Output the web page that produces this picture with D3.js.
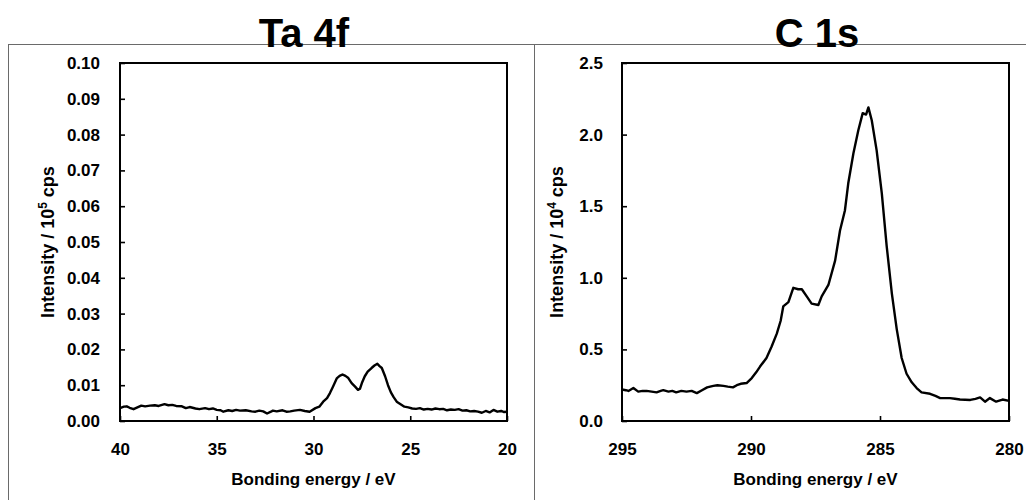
<!DOCTYPE html>
<html><head><meta charset="utf-8">
<script src="https://cdn.jsdelivr.net/npm/d3@7"></script>
<style>
html,body{margin:0;padding:0;background:#fff;}
svg{display:block;}
text{font-family:Arial,"Liberation Sans",sans-serif;font-weight:bold;fill:#000;}
</style></head>
<body>
<svg id="c" width="1026" height="500"></svg>
<script>
// ---- Data: Ta 4f ----
const taTitle = "Ta 4f";
const taBE = [40.0,39.8,39.65,39.5,39.3,39.1,38.9,38.7,38.45,38.2,38.0,37.7,37.5,37.3,37.1,36.8,36.6,36.4,36.1,35.9,35.6,35.4,35.2,35.0,34.8,34.66,34.4,34.2,34.0,33.8,33.5,33.2,33.0,32.8,32.6,32.4,32.2,32.1,31.9,31.6,31.4,31.2,31.0,30.7,30.45,30.2,29.9,29.7,29.5,29.3,29.15,29.0,28.8,28.65,28.5,28.35,28.2,28.03,27.85,27.7,27.6,27.5,27.35,27.2,27.0,26.85,26.7,26.6,26.47,26.3,26.15,26.0,25.85,25.7,25.5,25.3,25.1,24.9,24.7,24.5,24.3,24.1,23.9,23.7,23.5,23.3,23.1,22.9,22.7,22.5,22.3,22.1,21.9,21.7,21.5,21.3,21.1,20.9,20.7,20.5,20.3,20.15,20.0];
const taInt = [0.0036,0.0040,0.0041,0.0037,0.0033,0.0038,0.0043,0.0041,0.0043,0.0044,0.0042,0.0047,0.0044,0.0045,0.0042,0.0041,0.0036,0.0039,0.0035,0.0033,0.0036,0.0033,0.0035,0.0031,0.0030,0.0026,0.0030,0.0028,0.0031,0.0029,0.0030,0.0027,0.0026,0.0029,0.0027,0.0021,0.0026,0.0029,0.0027,0.0030,0.0026,0.0027,0.0029,0.0031,0.0028,0.0026,0.0036,0.0040,0.0054,0.0064,0.0078,0.0095,0.0119,0.0126,0.0130,0.0126,0.0120,0.0106,0.0096,0.0087,0.0090,0.0106,0.0125,0.0138,0.0148,0.0155,0.0160,0.0154,0.0148,0.0125,0.0100,0.0080,0.0066,0.0054,0.0047,0.0040,0.0038,0.0035,0.0034,0.0036,0.0032,0.0034,0.0032,0.0035,0.0033,0.0034,0.0030,0.0032,0.0031,0.0033,0.0029,0.0030,0.0027,0.0028,0.0026,0.0023,0.0028,0.0024,0.0031,0.0026,0.0028,0.0025,0.0026];
const taXTicks = [40,35,30,25,20];
const taYTicks = [0,0.01,0.02,0.03,0.04,0.05,0.06,0.07,0.08,0.09,0.10];
const taYLabel = ["Intensity / 10","5"," cps"];

// ---- Data: C 1s ----
const cTitle = "C 1s";
const cBE = [295.0,294.85,294.75,294.56,294.37,294.2,294.05,293.85,293.66,293.5,293.4,293.2,293.05,292.9,292.7,292.5,292.3,292.1,291.9,291.7,291.46,291.3,291.07,290.9,290.7,290.55,290.4,290.17,289.97,289.8,289.65,289.4,289.2,289.0,288.85,288.75,288.55,288.36,288.17,288.03,287.84,287.65,287.39,287.26,287.0,286.74,286.55,286.36,286.23,286.03,285.84,285.67,285.54,285.45,285.32,285.13,284.93,284.74,284.54,284.35,284.16,283.97,283.77,283.58,283.39,283.06,282.85,282.67,282.29,282.1,281.9,281.5,281.3,281.12,280.93,280.74,280.5,280.25,280.0];
const cInt = [0.22,0.215,0.21,0.23,0.205,0.21,0.21,0.205,0.20,0.21,0.215,0.205,0.21,0.20,0.21,0.205,0.21,0.195,0.215,0.235,0.245,0.25,0.245,0.24,0.235,0.25,0.26,0.265,0.30,0.34,0.38,0.44,0.52,0.61,0.70,0.80,0.83,0.93,0.92,0.92,0.87,0.82,0.81,0.87,0.95,1.12,1.33,1.47,1.66,1.87,2.03,2.15,2.14,2.19,2.10,1.89,1.59,1.22,0.89,0.64,0.44,0.33,0.27,0.23,0.20,0.19,0.175,0.16,0.16,0.155,0.15,0.147,0.155,0.165,0.135,0.16,0.135,0.15,0.14];
const cXTicks = [295,290,285,280];
const cYTicks = [0,0.5,1.0,1.5,2.0,2.5];
const cYLabel = ["Intensity / 10","4"," cps"];

const xTitle = "Bonding energy / eV";

const svg = d3.select("#c");

// outer frame lines
const frame = svg.append("g").attr("stroke","#6a6a6a").attr("stroke-width",1).attr("fill","none");
frame.append("line").attr("x1",8).attr("x2",1026).attr("y1",44.5).attr("y2",44.5);
frame.append("line").attr("x1",8.5).attr("x2",8.5).attr("y1",44).attr("y2",500);
frame.append("line").attr("x1",534.5).attr("x2",534.5).attr("y1",44).attr("y2",500);

function panel(o){
  const g = svg.append("g");
  const x = d3.scaleLinear().domain(o.xDomain).range([o.left,o.right]);
  const y = d3.scaleLinear().domain(o.yDomain).range([o.bottom,o.top]);

  // axes
  const ax = g.append("g").attr("transform",`translate(0,${o.bottom})`)
    .call(d3.axisBottom(x).tickValues(o.xTicks).tickSize(-5).tickPadding(22).tickFormat(d3.format("d")));
  const ay = g.append("g").attr("transform",`translate(${o.left},0)`)
    .call(d3.axisLeft(y).tickValues(o.yTicks).tickSize(-5).tickPadding(o.yPad).tickFormat(d3.format(o.yFmt)));
  [ax,ay].forEach(a=>{
    a.select(".domain").remove();
    a.selectAll(".tick line").attr("stroke","#000").attr("stroke-width",1.6);
    a.selectAll(".tick text").attr("font-size",17).attr("font-family","Arial, 'Liberation Sans', sans-serif").attr("font-weight","bold").attr("fill","#000");
  });

  // box
  g.append("rect").attr("x",o.left).attr("y",o.top)
    .attr("width",o.right-o.left).attr("height",o.bottom-o.top)
    .attr("fill","none").attr("stroke","#000").attr("stroke-width",2);

  // curve
  const pts = o.be.map((b,i)=>[b,o.val[i]]);
  g.append("path").datum(pts)
    .attr("fill","none").attr("stroke","#000").attr("stroke-width",2.4).attr("stroke-linejoin","round")
    .attr("d", d3.line().x(d=>x(d[0])).y(d=>y(d[1])));

  // title
  g.append("text").attr("x",o.titleX).attr("y",47).attr("text-anchor","middle")
    .attr("font-size",40).text(o.title);

  // x title
  g.append("text").attr("x",(o.left+o.right)/2).attr("y",485).attr("text-anchor","middle")
    .attr("font-size",17).text(xTitle);

  // y title
  const yt = g.append("text").attr("transform",`translate(${o.yTitleX},${(o.top+o.bottom)/2}) rotate(-90)`)
    .attr("text-anchor","middle").attr("font-size",18);
  yt.append("tspan").text(o.yLabel[0]);
  yt.append("tspan").attr("font-size",12).attr("dy",-7).text(o.yLabel[1]);
  yt.append("tspan").attr("dy",7).text(o.yLabel[2]);
}

panel({title:taTitle, titleX:304, xDomain:[40,20], yDomain:[0,0.1], left:120, right:507, top:63, bottom:421,
  xTicks:taXTicks, yTicks:taYTicks, yFmt:".2f", yPad:20, be:taBE, val:taInt, yLabel:taYLabel, yTitleX:54});
panel({title:cTitle, titleX:817, xDomain:[295,280], yDomain:[0,2.5], left:622, right:1009, top:63, bottom:421,
  xTicks:cXTicks, yTicks:cYTicks, yFmt:".1f", yPad:19, be:cBE, val:cInt, yLabel:cYLabel, yTitleX:563});
</script>
</body></html>
